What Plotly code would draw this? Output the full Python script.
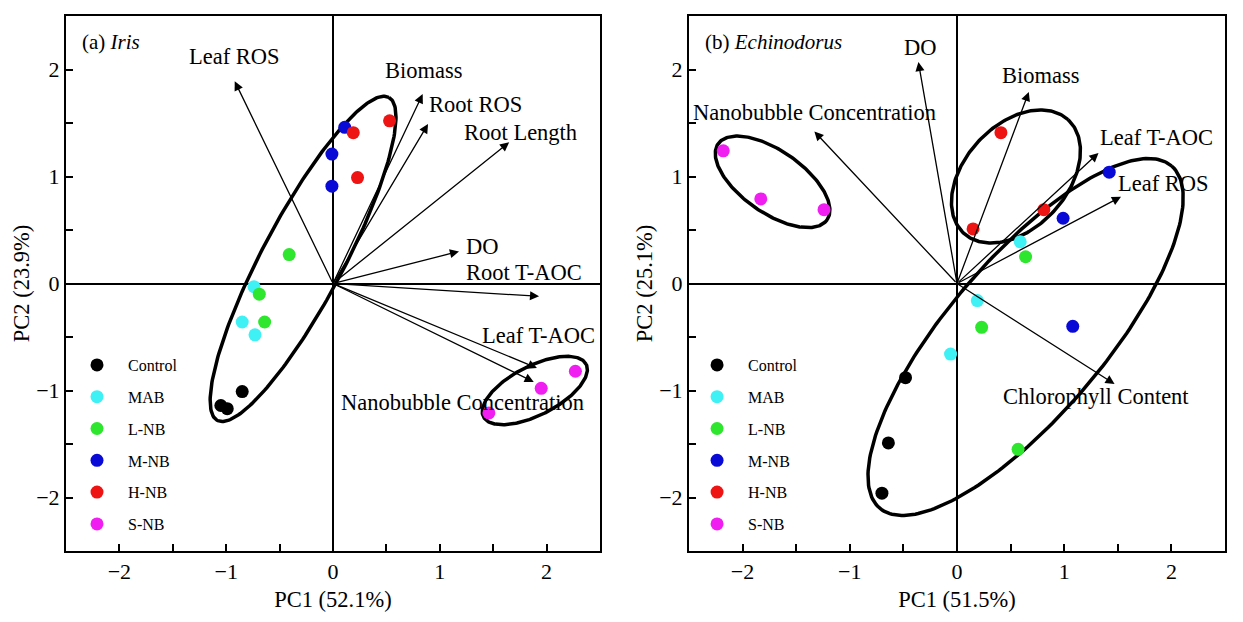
import numpy as np
import plotly.graph_objects as go

# %% groups and colours
groups = ['Control', 'MAB', 'L-NB', 'M-NB', 'H-NB', 'S-NB']
colors = ['#000000', '#3ff0f4', '#2ee62e', '#0a0ad6', '#ee1414', '#f01ef0']

# %% (a) Iris scores, one list per group
iris_pc1 = [[-1.05, -0.99, -0.85],
            [-0.74, -0.85, -0.73],
            [-0.41, -0.69, -0.64],
            [0.11, -0.01, -0.01],
            [0.19, 0.53, 0.23],
            [1.46, 1.95, 2.27]]
iris_pc2 = [[-1.14, -1.17, -1.01],
            [-0.03, -0.36, -0.48],
            [0.27, -0.10, -0.36],
            [1.46, 1.21, 0.91],
            [1.41, 1.52, 0.99],
            [-1.21, -0.98, -0.82]]

# loadings
iris_vars = ['Leaf ROS', 'Biomass', 'Root ROS', 'Root Length', 'DO',
             'Root T-AOC', 'Leaf T-AOC', 'Nanobubble Concentration']
iris_load1 = [-0.92, 0.84, 0.89, 1.65, 1.18, 1.93, 1.91, 1.88]
iris_load2 = [1.89, 1.77, 1.49, 1.32, 0.30, -0.12, -0.79, -0.92]

# confidence ellipses: centre, semi axes, angle (deg)
iris_ell_cx = [-0.28, 1.89]
iris_ell_cy = [0.23, -1.00]
iris_ell_a = [1.71, 0.54]
iris_ell_b = [0.38, 0.23]
iris_ell_ang = [62, 27]

# %% (b) Echinodorus
echi_pc1 = [[-0.48, -0.64, -0.70],
            [0.59, 0.19, -0.06],
            [0.64, 0.23, 0.57],
            [1.42, 0.99, 1.08],
            [0.41, 0.15, 0.81],
            [-2.18, -1.83, -1.24]]
echi_pc2 = [[-0.88, -1.49, -1.96],
            [0.39, -0.16, -0.66],
            [0.25, -0.41, -1.55],
            [1.04, 0.61, -0.40],
            [1.41, 0.51, 0.69],
            [1.24, 0.79, 0.69]]

echi_vars = ['DO', 'Nanobubble Concentration', 'Biomass', 'Leaf T-AOC',
             'Leaf ROS', 'Chlorophyll Content']
echi_load1 = [-0.36, -1.33, 0.67, 1.32, 1.53, 1.47]
echi_load2 = [2.07, 1.42, 1.79, 1.22, 0.81, -0.94]

echi_ell_cx = [-1.72, 0.55, 0.64]
echi_ell_cy = [0.95, 1.00, -0.50]
echi_ell_a = [0.62, 0.72, 2.10]
echi_ell_b = [0.29, 0.48, 0.73]
echi_ell_ang = [-35, 47.5, 49.6]

# label positions (layout only)
iris_lab_x = [-0.92, 0.85, 1.33, 1.76, 1.40, 1.79, 1.92, 1.21]
iris_lab_y = [2.12, 1.99, 1.67, 1.41, 0.35, 0.10, -0.49, -1.11]
echi_lab_x = [-0.34, -1.33, 0.78, 1.86, 1.93, 1.30]
echi_lab_y = [2.21, 1.60, 1.94, 1.36, 0.93, -1.06]

FONT = 'Liberation Serif'


def ellipse(cx, cy, a, b, ang):
    t = np.linspace(0, 2 * np.pi, 240)
    th = np.radians(ang)
    x = cx + a * np.cos(t) * np.cos(th) - b * np.sin(t) * np.sin(th)
    y = cy + a * np.cos(t) * np.sin(th) + b * np.sin(t) * np.cos(th)
    return x, y


fig = go.Figure()

# %% ellipses
for cx, cy, a, b, ang in zip(iris_ell_cx, iris_ell_cy, iris_ell_a, iris_ell_b, iris_ell_ang):
    ex, ey = ellipse(cx, cy, a, b, ang)
    fig.add_trace(go.Scatter(x=ex, y=ey, mode='lines', line=dict(color='black', width=3.5),
                             showlegend=False, hoverinfo='skip', xaxis='x', yaxis='y'))
for cx, cy, a, b, ang in zip(echi_ell_cx, echi_ell_cy, echi_ell_a, echi_ell_b, echi_ell_ang):
    ex, ey = ellipse(cx, cy, a, b, ang)
    fig.add_trace(go.Scatter(x=ex, y=ey, mode='lines', line=dict(color='black', width=3.5),
                             showlegend=False, hoverinfo='skip', xaxis='x2', yaxis='y2'))

# %% scores
for k, g in enumerate(groups):
    fig.add_trace(go.Scatter(x=iris_pc1[k], y=iris_pc2[k], mode='markers', name=g,
                             marker=dict(color=colors[k], size=13),
                             legend='legend', legendgroup='a' + g, xaxis='x', yaxis='y'))
    fig.add_trace(go.Scatter(x=echi_pc1[k], y=echi_pc2[k], mode='markers', name=g,
                             marker=dict(color=colors[k], size=13),
                             legend='legend2', legendgroup='b' + g, xaxis='x2', yaxis='y2'))

# %% loading arrows + labels
for xr, yr, names, l1, l2, lx, ly in [('x', 'y', iris_vars, iris_load1, iris_load2, iris_lab_x, iris_lab_y),
                                       ('x2', 'y2', echi_vars, echi_load1, echi_load2, echi_lab_x, echi_lab_y)]:
    for n, vx, vy, tx, ty in zip(names, l1, l2, lx, ly):
        fig.add_annotation(x=vx, y=vy, ax=0, ay=0, xref=xr, yref=yr, axref=xr, ayref=yr,
                           text='', showarrow=True, arrowhead=2, arrowsize=1.4,
                           arrowwidth=1.3, arrowcolor='black')
        fig.add_annotation(x=tx, y=ty, xref=xr, yref=yr, text=n, showarrow=False,
                           font=dict(family=FONT, size=22.5, color='black'))

fig.add_annotation(x=-2.37, y=2.26, xref='x', yref='y', xanchor='left', showarrow=False,
                   text='(a) <i>Iris</i>', font=dict(family=FONT, size=21, color='black'))
fig.add_annotation(x=-2.37, y=2.26, xref='x2', yref='y2', xanchor='left', showarrow=False,
                   text='(b) <i>Echinodorus</i>', font=dict(family=FONT, size=21, color='black'))

# %% axes
axis_common = dict(range=[-2.5, 2.5], showline=True, mirror=True, linecolor='black', linewidth=2,
                   ticks='inside', ticklen=7, tickwidth=2, tickcolor='black', dtick=1,
                   minor=dict(dtick=0.5, ticks='inside', ticklen=7, tickwidth=2, tickcolor='black'),
                   showgrid=False, zeroline=True, zerolinecolor='black', zerolinewidth=1.5,
                   automargin=False,
                   tickfont=dict(family=FONT, size=22, color='black'),
                   title_font=dict(family=FONT, size=22.5, color='black'))

# page body adds 8px, so the figure is a bit smaller than the window
fig.update_layout(
    width=1235, height=614,
    margin=dict(l=58, r=18, t=8, b=71),
    plot_bgcolor='white', paper_bgcolor='white',
    font=dict(family=FONT, color='black'),
    xaxis=dict(axis_common, domain=[0, 0.4607], anchor='y',
               title=dict(text='PC1 (52.1%)', standoff=8)),
    yaxis=dict(axis_common, domain=[0, 1], anchor='x',
               title=dict(text='PC2 (23.9%)', standoff=0)),
    xaxis2=dict(axis_common, domain=[0.5375, 1], anchor='y2',
                title=dict(text='PC1 (51.5%)', standoff=8)),
    yaxis2=dict(axis_common, domain=[0, 1], anchor='x2',
                title=dict(text='PC2 (25.1%)', standoff=0)),
    legend=dict(x=0.0, y=0.3794, xanchor='left', yanchor='top', bgcolor='rgba(0,0,0,0)',
                font=dict(family=FONT, size=16), itemwidth=52, traceorder='grouped',
                tracegroupgap=8),
    legend2=dict(x=0.535, y=0.3794, xanchor='left', yanchor='top', bgcolor='rgba(0,0,0,0)',
                 font=dict(family=FONT, size=16), itemwidth=52, traceorder='grouped',
                 tracegroupgap=8),
)

fig.write_html("out.html")
